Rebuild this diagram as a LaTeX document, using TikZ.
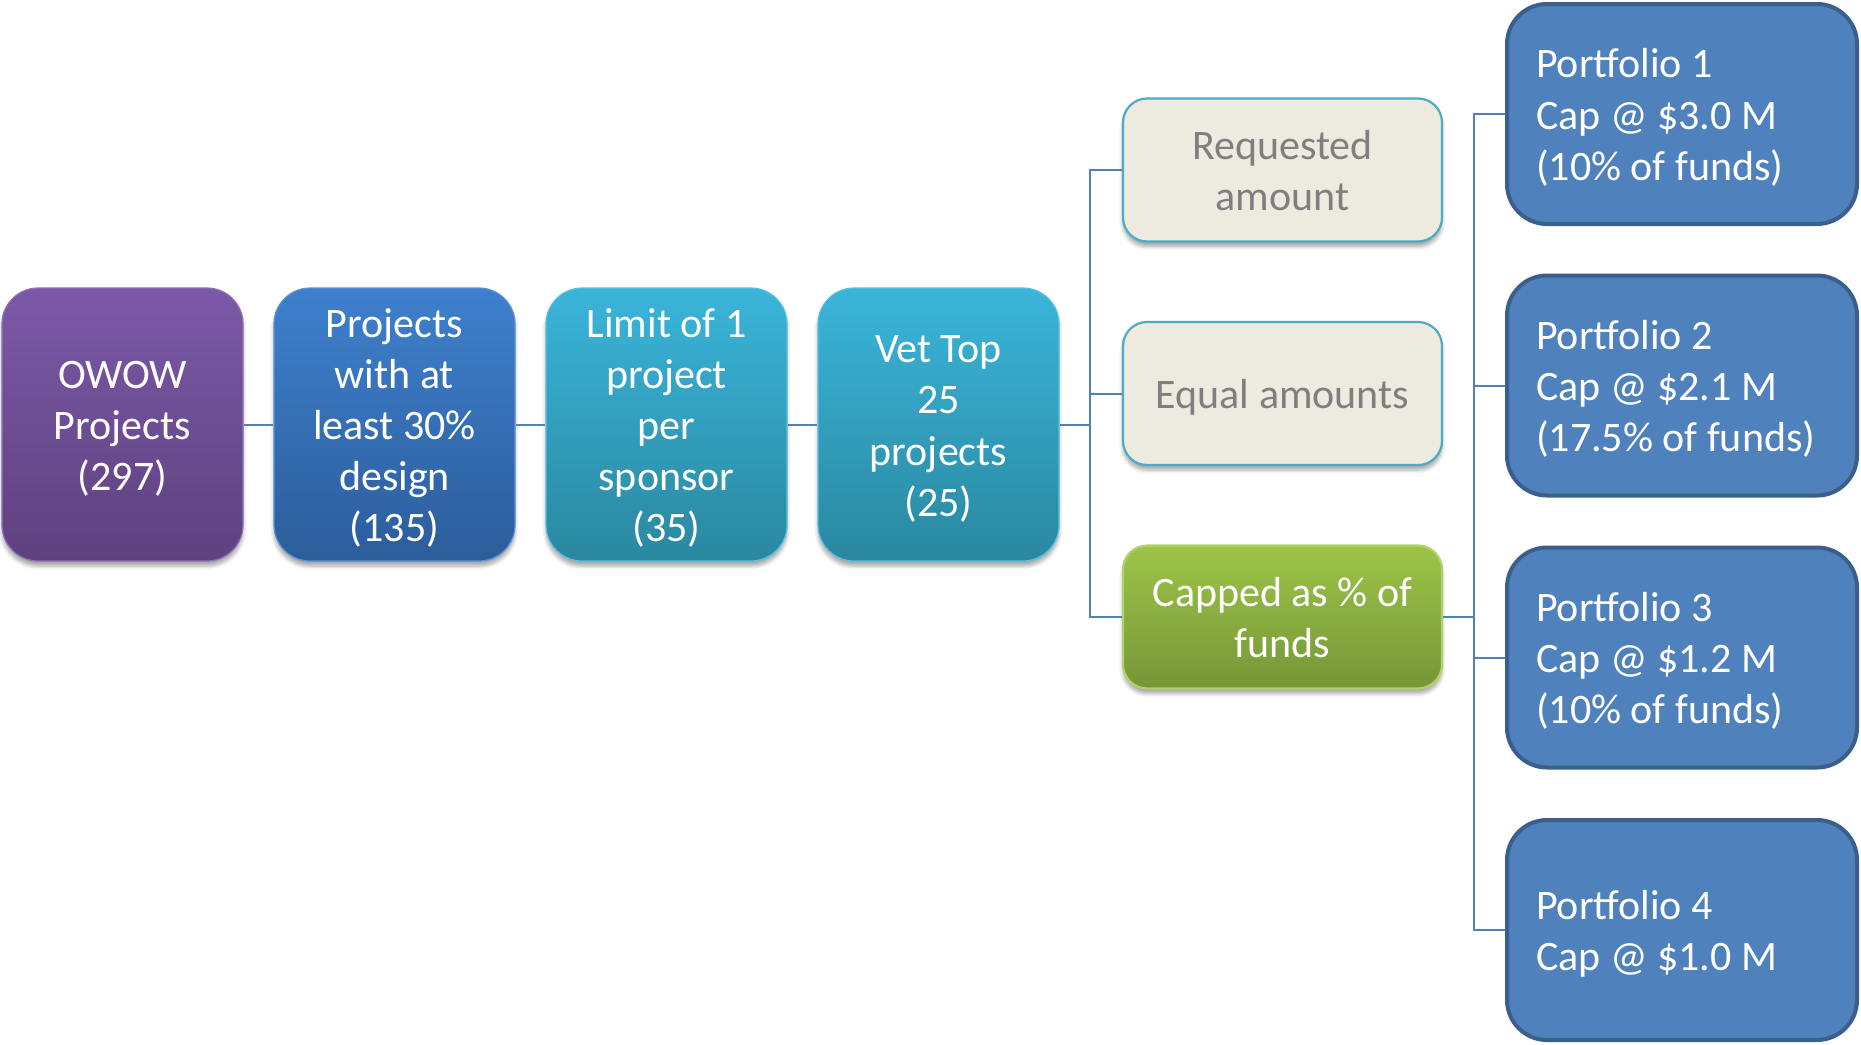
\documentclass[tikz,border=0pt]{standalone}
\usepackage{fontspec}
\setmainfont{Carlito}
\usetikzlibrary{shadows.blur}
\definecolor{conn}{HTML}{4F81BD}
\definecolor{purT}{HTML}{7C59A8}
\definecolor{purB}{HTML}{5E417F}
\definecolor{bluT}{HTML}{3E80CE}
\definecolor{bluB}{HTML}{2C5D9B}
\definecolor{tealT}{HTML}{3AB5DA}
\definecolor{tealB}{HTML}{2A88A0}
\definecolor{beige}{HTML}{EDEAE0}
\definecolor{tealline}{HTML}{4BACC6}
\definecolor{grntxt}{HTML}{7F7F7F}
\definecolor{grnT}{HTML}{9DC547}
\definecolor{grnB}{HTML}{769538}
\definecolor{pfill}{HTML}{4F81BD}
\definecolor{pline}{HTML}{3A5F8C}
\tikzset{
  bigtext/.style={font=\fontsize{21pt}{25.6pt}\selectfont,
    execute at begin node={\rule{0pt}{19pt}},
    execute at end node={\rule[-4pt]{0pt}{4pt}}},
  leftbox/.style={bigtext, rounded corners=18pt, minimum width=120.5pt, minimum height=136.5pt,
    text width=116pt, text=white, align=flush center, inner sep=2pt, line width=0.6pt,
    blur shadow={shadow xshift=0pt, shadow yshift=-2.5pt, shadow blur steps=6, shadow opacity=35}},
  midbox/.style={bigtext, rounded corners=12pt, minimum width=159.5pt, minimum height=71.5pt,
    text width=155pt, align=flush center, inner sep=2pt, line width=1.1pt,
    blur shadow={shadow xshift=0pt, shadow yshift=-2.5pt, shadow blur steps=6, shadow opacity=35}},
  pbox/.style={bigtext, rounded corners=20pt, minimum width=175pt, minimum height=110pt,
    text width=146pt, inner xsep=14.5pt, align=flush left, text=white,
    fill=pfill, draw=pline, line width=2pt},
  link/.style={draw=conn, line width=1pt}
}
\begin{document}
\begin{tikzpicture}[x=0.5pt,y=-0.5pt]
\useasboundingbox (0,0) rectangle (1861,1044);
% left chain
\node[leftbox, top color=purT, bottom color=purB, draw=purT!85!white] (owow) at (122.5,424.5) {OWOW\\Projects\\(297)};
\node[leftbox, top color=bluT, bottom color=bluB, draw=bluT!85!white] (design) at (394.5,424.5) {Projects\\with at\\least 30\%\\design\\(135)};
\node[leftbox, top color=tealT, bottom color=tealB, draw=tealT!85!white] (limit) at (666.5,424.5) {Limit of 1\\project\\per\\sponsor\\(35)};
\node[leftbox, top color=tealT, bottom color=tealB, draw=tealT!85!white] (vet) at (938.5,424.5) {Vet Top\\25\\projects\\(25)};
% middle column
\node[midbox, fill=beige, draw=tealline, text=grntxt] (req) at (1282.5,170) {Requested\\amount};
\node[midbox, fill=beige, draw=tealline, text=grntxt] (equal) at (1282.5,393.5) {Equal amounts};
\node[midbox, top color=grnT, bottom color=grnB, draw=grnT!80!white, text=white] (capped) at (1282.5,617) {Capped as \% of\\funds};
% portfolios
\node[pbox] (p1) at (1682,114) {\mbox{Portfolio 1}\\\mbox{Cap @ \$3.0 M}\\\mbox{(10\% of funds)}};
\node[pbox] (p2) at (1682,385.5) {\mbox{Portfolio 2}\\\mbox{Cap @ \$2.1 M}\\\mbox{(17.5\% of funds)}};
\node[pbox] (p3) at (1682,657.5) {\mbox{Portfolio 3}\\\mbox{Cap @ \$1.2 M}\\\mbox{(10\% of funds)}};
\node[pbox] (p4) at (1682,930) {\mbox{Portfolio 4}\\\mbox{Cap @ \$1.0 M}};
% coordinates for brackets
\coordinate (b1) at (1090,424.5);
\coordinate (b2) at (1474,617);
% connectors
\draw[link] (owow.east) -- (design.west);
\draw[link] (design.east) -- (limit.west);
\draw[link] (limit.east) -- (vet.west);
\draw[link] (vet.east) -- (b1);
\draw[link] (req.west) -| (b1) |- (capped.west);
\draw[link] (b1) |- (equal.west);
\draw[link] (capped.east) -- (b2);
\draw[link] (p1.west) -| (b2) |- (p4.west);
\draw[link] (b2) |- (p2.west);
\draw[link] (b2) |- (p3.west);
\end{tikzpicture}
\end{document}
